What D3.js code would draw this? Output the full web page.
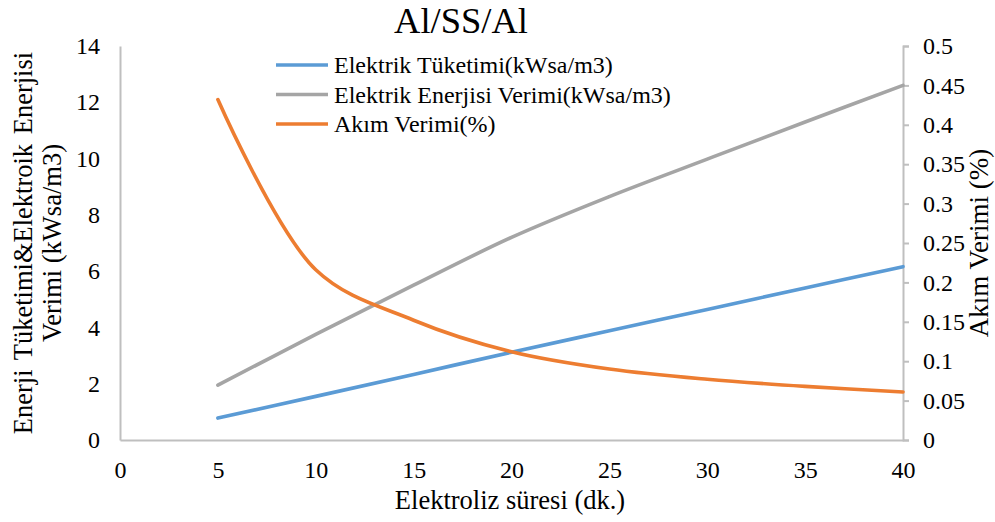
<!DOCTYPE html>
<html>
<head>
<meta charset="utf-8">
<script src="https://cdn.jsdelivr.net/npm/d3@7"></script>
<style>
  body { margin: 0; background: #fff; }
</style>
</head>
<body>
<script>
var times = [5, 10, 15, 20, 25, 30, 35, 40];
var tuketim = [0.78, 1.55, 2.33, 3.12, 3.88, 4.64, 5.4, 6.16];
var enerjiVerimi = [1.95, 3.75, 5.5, 7.2, 8.65, 9.98, 11.3, 12.6];
var akimVerimi = [0.432, 0.216, 0.152, 0.112, 0.09, 0.077, 0.068, 0.061];
var xTicks = [0, 5, 10, 15, 20, 25, 30, 35, 40];
var leftTicks = [0, 2, 4, 6, 8, 10, 12, 14];
var rightTicks = [0, 0.05, 0.1, 0.15, 0.2, 0.25, 0.3, 0.35, 0.4, 0.45, 0.5];
var seriesNames = ["Elektrik Tüketimi(kWsa/m3)", "Elektrik Enerjisi Verimi(kWsa/m3)", "Akım Verimi(%)"];
var colors = ["#5B9BD5", "#A5A5A5", "#ED7D31"];

var FONT = "'Liberation Serif', 'Times New Roman', serif";

function init(){
    var w = 995, h = 522;
    var left = 120, right = 903, top = 46, bottom = 440;

    var svg = d3.select("body").append("svg")
                .attr("width", w)
                .attr("height", h)
                .attr("font-family", FONT);

    var x = d3.scaleLinear().domain([0, 40]).range([left, right]);
    var yL = d3.scaleLinear().domain([0, 14]).range([bottom, top]);
    var yR = d3.scaleLinear().domain([0, 0.5]).range([bottom, top]);

    // title
    svg.append("text")
       .attr("x", 461).attr("y", 33)
       .attr("text-anchor", "middle")
       .attr("font-size", 36.5)
       .text("Al/SS/Al");

    // axes
    var xAxis = svg.append("g")
       .attr("transform", "translate(0," + bottom + ")")
       .call(d3.axisBottom(x).tickValues(xTicks).tickSize(0).tickPadding(21));
    var lAxis = svg.append("g")
       .attr("transform", "translate(" + left + ",0)")
       .call(d3.axisLeft(yL).tickValues(leftTicks).tickSize(0).tickPadding(20));
    var rAxis = svg.append("g")
       .attr("transform", "translate(" + right + ",0)")
       .call(d3.axisRight(yR).tickValues(rightTicks).tickSize(6).tickPadding(14)
             .tickFormat(function(d){ return d3.format("~g")(d); }));

    [xAxis, lAxis, rAxis].forEach(function(g){
        g.attr("font-family", FONT).attr("font-size", 24);
        g.select(".domain").attr("stroke", "#BFBFBF").attr("stroke-width", 2);
        g.selectAll(".tick line").attr("stroke", "#BFBFBF").attr("stroke-width", 2);
        g.selectAll("text").attr("fill", "#000");
    });
    xAxis.selectAll("text").attr("dy", "0.71em");

    // lines
    var curve = d3.curveCatmullRom.alpha(0.5);
    var data = [
        { vals: tuketim, y: yL },
        { vals: enerjiVerimi, y: yL },
        { vals: akimVerimi, y: yR }
    ];
    data.forEach(function(s, i){
        var line = d3.line()
            .x(function(d, j){ return x(times[j]); })
            .y(function(d){ return s.y(d); })
            .curve(curve);
        svg.append("path")
           .attr("d", line(s.vals))
           .attr("fill", "none")
           .attr("stroke", colors[i])
           .attr("stroke-width", 3.6)
           .attr("stroke-linecap", "round");
    });

    // legend
    var leg = svg.append("g");
    seriesNames.forEach(function(n, i){
        var yy = 65 + i * 29.5;
        leg.append("line")
           .attr("x1", 276).attr("x2", 328)
           .attr("y1", yy).attr("y2", yy)
           .attr("stroke", colors[i]).attr("stroke-width", 3.6);
        leg.append("text")
           .attr("x", 334).attr("y", yy + 8)
           .attr("font-size", 24)
           .text(n);
    });

    // axis titles
    svg.append("text")
       .attr("x", 510).attr("y", 509)
       .attr("text-anchor", "middle")
       .attr("font-size", 26.5)
       .text("Elektroliz süresi (dk.)");

    var lt = svg.append("text")
       .attr("transform", "translate(32,243) rotate(-90)")
       .attr("text-anchor", "middle")
       .attr("font-size", 26.5);
    lt.append("tspan").attr("x", 0).attr("dy", 0)
      .attr("word-spacing", 3)
      .text("Enerji Tüketimi&Elektroik Enerjisi");
    lt.append("tspan").attr("x", 0).attr("dy", 29).text("Verimi (kWsa/m3)");

    svg.append("text")
       .attr("transform", "translate(988,243) rotate(-90)")
       .attr("text-anchor", "middle")
       .attr("font-size", 27)
       .text("Akım Verimi (%)");
}
window.onload = init;
</script>
</body>
</html>
